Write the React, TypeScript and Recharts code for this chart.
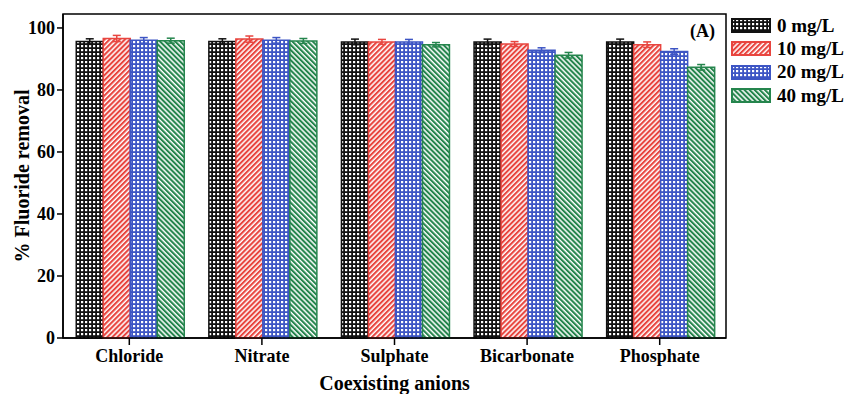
import { Bar, BarChart, ErrorBar, ReferenceArea, XAxis, YAxis } from "recharts";

const categories = ["Chloride", "Nitrate", "Sulphate", "Bicarbonate", "Phosphate"];
const conc0 = [95.6, 95.6, 95.5, 95.5, 95.5];
const conc10 = [96.6, 96.4, 95.5, 94.8, 94.6];
const conc20 = [96.0, 96.0, 95.5, 92.8, 92.4];
const conc40 = [95.9, 95.8, 94.6, 91.2, 87.3];
const err0 = [0.9, 0.9, 0.9, 0.9, 0.9];
const err10 = [1.0, 1.0, 0.8, 0.8, 0.9];
const err20 = [0.9, 0.9, 0.8, 0.8, 0.9];
const err40 = [0.8, 0.8, 0.7, 0.9, 0.9];
const yTicks = [0, 20, 40, 60, 80, 100];

const FONT = '"Liberation Serif", "Times New Roman", serif';

const SERIES = [
  { key: "c0", err: "e0", name: "0 mg/L", color: "#111111", pattern: "grid" },
  { key: "c10", err: "e10", name: "10 mg/L", color: "#e8453f", pattern: "fwd" },
  { key: "c20", err: "e20", name: "20 mg/L", color: "#3d55c4", pattern: "grid" },
  { key: "c40", err: "e40", name: "40 mg/L", color: "#25854d", pattern: "back" },
];

const data = categories.map((name, i) => ({
  name,
  c0: conc0[i],
  c10: conc10[i],
  c20: conc20[i],
  c40: conc40[i],
  e0: err0[i],
  e10: err10[i],
  e20: err20[i],
  e40: err40[i],
}));

function PatternDef({ id, color, kind }: { id: string; color: string; kind: string }) {
  if (kind === "grid") {
    return (
      <pattern id={id} width={4} height={4} patternUnits="userSpaceOnUse">
        <rect width={4} height={4} fill={color} />
        <rect x={1} y={1} width={2.2} height={2.2} fill="#fff" />
      </pattern>
    );
  }
  const rot = kind === "fwd" ? 45 : -45;
  return (
    <pattern
      id={id}
      width={3.6}
      height={3.6}
      patternUnits="userSpaceOnUse"
      patternTransform={`rotate(${rot})`}
    >
      <rect width={3.6} height={3.6} fill="#fff" />
      <rect width={2.1} height={3.6} fill={color} />
    </pattern>
  );
}

function ChartLegend() {
  return (
    <div
      style={{
        position: "absolute",
        left: 731,
        top: 14,
        fontFamily: FONT,
        fontWeight: "bold",
        fontSize: 19,
        whiteSpace: "nowrap",
      }}
    >
      {SERIES.map((s) => (
        <div key={s.key} style={{ display: "flex", alignItems: "center", height: 23.3 }}>
          <svg width={40} height={15} style={{ marginRight: 6 }}>
            <defs>
              <PatternDef id={`lg-${s.key}`} color={s.color} kind={s.pattern} />
            </defs>
            <rect
              x={1}
              y={1}
              width={38}
              height={13}
              fill={`url(#lg-${s.key})`}
              stroke={s.color}
              strokeWidth={2}
            />
          </svg>
          <span style={{ color: "#000" }}>{s.name}</span>
        </div>
      ))}
    </div>
  );
}

export default function App() {
  const tickStyle = { fontFamily: FONT, fontWeight: "bold", fontSize: 18, fill: "#000" };
  return (
    <div style={{ position: "absolute", left: 0, top: 0, width: 845, height: 394, background: "#fff" }}>
      <BarChart
        width={845}
        height={394}
        data={data}
        margin={{ top: 14, right: 119, left: 0, bottom: 26 }}
        barCategoryGap="10%"
        barGap={0}
      >
        <defs>
          {SERIES.map((s) => (
            <PatternDef key={s.key} id={`pt-${s.key}`} color={s.color} kind={s.pattern} />
          ))}
        </defs>
        <XAxis
          dataKey="name"
          height={30}
          tick={tickStyle}
          tickSize={7}
          tickMargin={4}
          axisLine={{ stroke: "#000", strokeWidth: 1.5 }}
          tickLine={{ stroke: "#000", strokeWidth: 1.5 }}
          label={{
            value: "Coexisting anions",
            position: "bottom",
            offset: 8,
            style: { fontFamily: FONT, fontWeight: "bold", fontSize: 20, fill: "#000" },
          }}
        />
        <YAxis
          width={63}
          domain={[0, 104.5]}
          ticks={yTicks}
          tick={tickStyle}
          tickSize={6}
          tickMargin={2}
          axisLine={{ stroke: "#000", strokeWidth: 1.5 }}
          tickLine={{ stroke: "#000", strokeWidth: 1.5 }}
          label={{
            value: "% Fluoride removal",
            angle: -90,
            position: "insideLeft",
            offset: 22,
            style: { fontFamily: FONT, fontWeight: "bold", fontSize: 20, fill: "#000", textAnchor: "middle" },
          }}
        />
        <ReferenceArea
          y1={0}
          y2={104.5}
          fill="none"
          stroke="#000"
          strokeWidth={1.5}
          ifOverflow="visible"
        />
        {SERIES.map((s) => (
          <Bar
            key={s.key}
            dataKey={s.key}
            name={s.name}
            fill={`url(#pt-${s.key})`}
            stroke={s.color}
            strokeWidth={1.5}
            isAnimationActive={false}
          >
            <ErrorBar dataKey={s.err} width={4} stroke={s.color} strokeWidth={1.5} />
          </Bar>
        ))}
      </BarChart>
      <ChartLegend />
      <div
        style={{
          position: "absolute",
          left: 690,
          top: 21,
          fontFamily: FONT,
          fontWeight: "bold",
          fontSize: 18,
        }}
      >
        (A)
      </div>
    </div>
  );
}
